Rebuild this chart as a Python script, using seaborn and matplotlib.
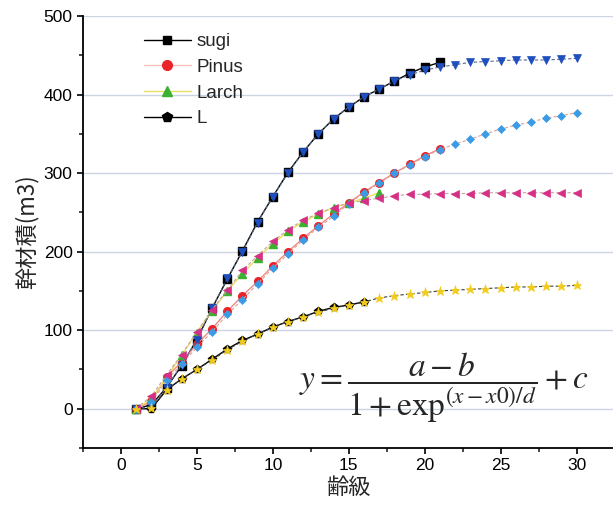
import numpy as np
import pandas as pd
import matplotlib
matplotlib.use("Agg")
import matplotlib.pyplot as plt
from matplotlib.lines import Line2D
import seaborn as sns

# observed stand volume by age class
sugi_age = list(range(1, 22))
sugi_obs = [0, 5, 27, 55, 88, 128, 165, 201, 238, 270, 301, 327, 350, 369,
            384, 397, 407, 417, 427, 435, 441]
pinus_age = list(range(1, 22))
pinus_obs = [0, 10, 40, 60, 82, 102, 124, 144, 162, 182, 200, 217, 233, 248,
             262, 276, 288, 300, 311, 322, 331]
larch_age = list(range(1, 18))
larch_obs = [0, 12, 40, 68, 97, 125, 150, 172, 192, 210, 226, 238, 248, 256,
             262, 268, 275]
l_age = list(range(1, 17))
l_obs = [0, 0, 24, 38, 50, 63, 76, 87, 95, 104, 111, 117, 124, 129, 132, 136]

# fitted logistic curves
fit_age = list(range(1, 31))
sugi_fit = [0, 3, 27, 56, 88, 128, 166, 200, 237, 270, 300, 327, 350, 369,
            384, 397, 407, 417, 425, 431, 435, 438, 441, 442, 443, 444, 444,
            444, 445, 446]
pinus_fit = [0, 8, 36, 57, 78, 98, 120, 139, 159, 179, 197, 215, 231, 245,
             261, 275, 287, 300, 310, 321, 330, 337, 343, 350, 356, 361, 365,
             370, 373, 377]
larch_fit = [0, 16, 43, 69, 98, 126, 151, 176, 195, 213, 228, 240, 249, 256,
             262, 265, 268, 271, 273, 273, 274, 274, 274, 275, 275, 275, 275,
             275, 275, 275]
l_fit = [0, 1, 24, 38, 50, 62, 75, 86, 95, 104, 111, 117, 123, 128, 132, 136,
         141, 144, 146, 148, 150, 151, 152, 153, 154, 155, 155, 156, 156, 157]

legend_labels = ["sugi", "Pinus", "Larch", "L"]

sns.set_style("ticks")
plt.rcParams["font.family"] = ["Liberation Sans", "Noto Sans CJK JP"]
plt.rcParams["mathtext.fontset"] = "stix"

fig = plt.figure(figsize=(6.13, 5.16), dpi=100)
ax = fig.add_axes([83 / 613, 68 / 516, 530 / 613, 432 / 516])

obs_styles = [
    (sugi_age, sugi_obs, "black", "s", "black", "black"),
    (pinus_age, pinus_obs, "#f08a8a", "o", "#e8242a", "#e8242a"),
    (larch_age, larch_obs, "#e8e060", "^", "#3cb030", "#3cb030"),
    (l_age, l_obs, "black", "p", "#202010", "black"),
]
for x, y, lc, mk, mfc, mec in obs_styles:
    sns.lineplot(x=x, y=y, ax=ax, color=lc, marker=mk, markersize=5.5,
                 markerfacecolor=mfc, markeredgecolor=mec, markeredgewidth=1,
                 linewidth=1.0, errorbar=None, legend=False)

fit_styles = [
    (sugi_fit, "#5a6a90", "v", "#1f4fbf", 5.5),
    (pinus_fit, "#e0a090", "D", "#3a9be6", 4.5),
    (larch_fit, "#c8a0a0", "<", "#d62f86", 5.5),
    (l_fit, "#404040", "*", "#f2cc1c", 6.5),
]
for y, lc, mk, mfc, ms in fit_styles:
    sns.lineplot(x=fit_age, y=y, ax=ax, color=lc, marker=mk, markersize=ms,
                 markerfacecolor=mfc, markeredgecolor=mfc, markeredgewidth=0.5,
                 linewidth=0.8, linestyle=(0, (3, 2)), errorbar=None,
                 legend=False)

ax.set_xlim(-2.5, 32.4)
ax.set_ylim(-50, 500)
ax.set_xticks(np.arange(0, 31, 5))
ax.set_xticks(np.arange(-2.5, 32.5, 2.5), minor=True)
ax.set_yticks(np.arange(0, 501, 100))
ax.set_yticks(np.arange(-50, 501, 50), minor=True)
ax.tick_params(axis="both", which="major", direction="out", length=4,
               width=1.2, labelsize=12.5, colors="black")
ax.tick_params(axis="both", which="minor", direction="out", length=3,
               width=1.2)
ax.yaxis.grid(True, which="major", color="#ccd6e2", linewidth=1.0)
ax.set_axisbelow(True)
for side in ["top", "right"]:
    ax.spines[side].set_visible(False)
for side in ["left", "bottom"]:
    ax.spines[side].set_linewidth(1.3)
    ax.spines[side].set_color("black")

ax.set_xlabel("齢級", fontsize=16, family=["Noto Sans CJK JP"], labelpad=2)
ax.set_ylabel("幹材積(m3)", fontsize=16, family=["Noto Sans CJK JP"],
              labelpad=4)

handles = [
    Line2D([], [], color="black", marker="s", markersize=6, lw=1),
    Line2D([], [], color="#f5c0c0", marker="o", markersize=7,
           markerfacecolor="#e8242a", markeredgecolor="#e8242a", lw=1),
    Line2D([], [], color="#e8e060", marker="^", markersize=7,
           markerfacecolor="#3cb030", markeredgecolor="#3cb030", lw=1),
    Line2D([], [], color="black", marker="p", markersize=7, lw=1),
]
ax.legend(handles, legend_labels, loc="upper left",
          bbox_to_anchor=(0.115, 0.96), frameon=False, fontsize=13.5,
          handlelength=2.5, handletextpad=0.3, labelspacing=0.45,
          borderpad=0, borderaxespad=0)

ax.text(0.68, 0.139,
        r"$y=\dfrac{a-b}{1+\mathrm{exp}^{(x-x0)/d}}+c$",
        transform=ax.transAxes, ha="center", va="center", fontsize=24)

fig.savefig("out.png", dpi=100)
